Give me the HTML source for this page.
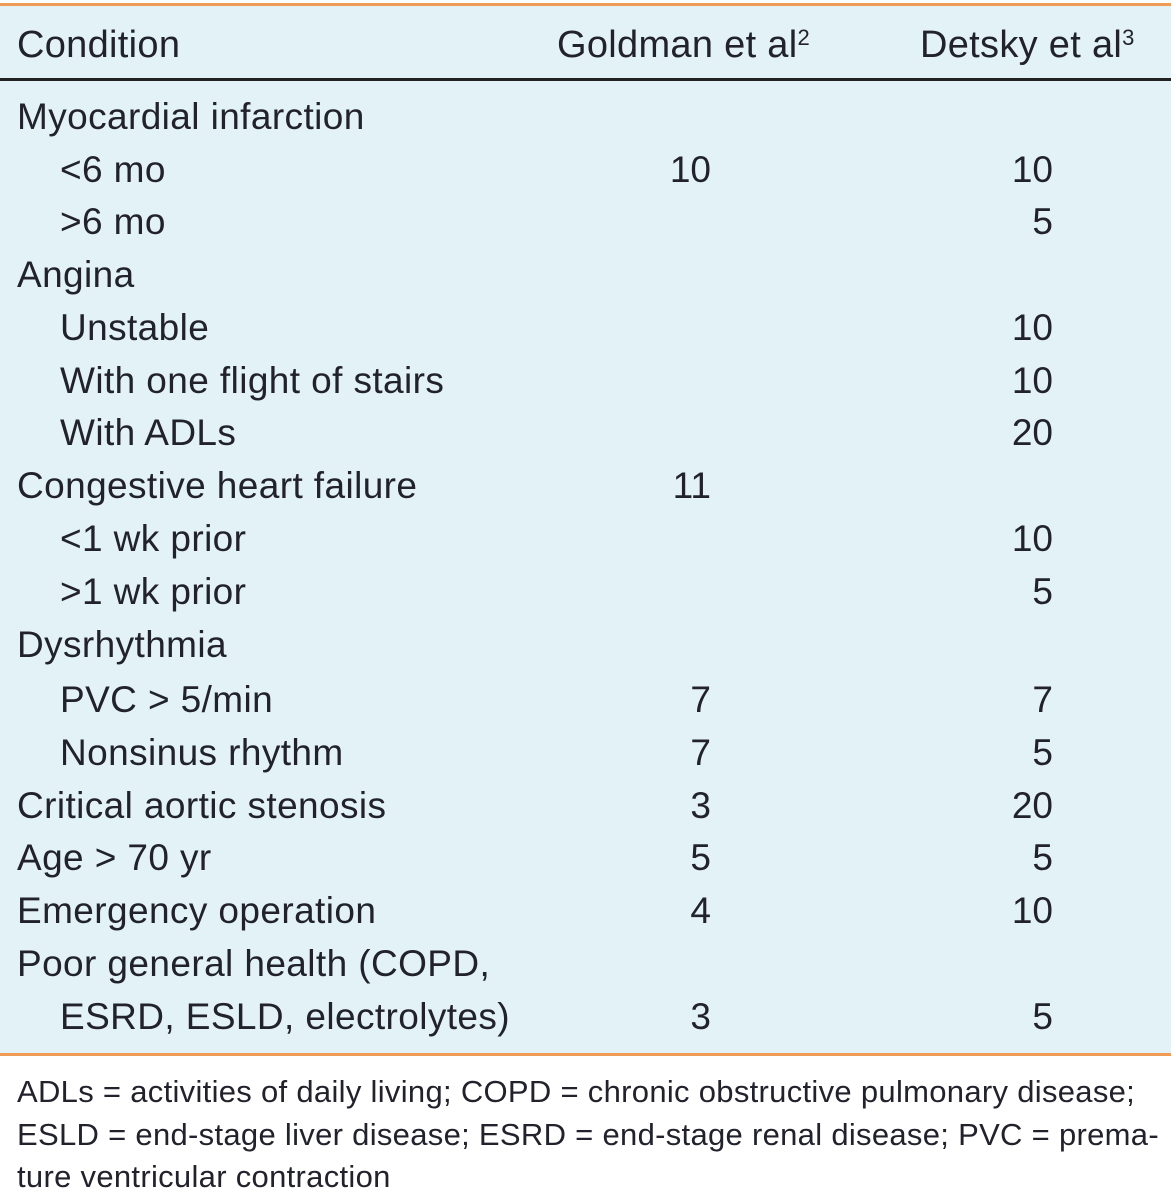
<!DOCTYPE html>
<html><head><style>
body{margin:0;width:1176px;height:1200px;background:#fff;position:relative;overflow:hidden;font-family:"Liberation Sans",sans-serif;color:#22222c}
.bg{position:absolute;left:0;top:5px;width:1171px;height:1050px;background:#e2f2f7}
.ot{position:absolute;left:0;top:3px;width:1171px;height:3px;background:#ef9a55}
.ob{position:absolute;left:0;top:1053px;width:1171px;height:3px;background:#ef9a55}
.bk{position:absolute;left:0;top:78px;width:1171px;height:3px;background:#222}
.t{position:absolute;font-size:37px;line-height:40px;height:40px;white-space:nowrap;letter-spacing:0.4px}
.h{font-size:38px;letter-spacing:0.3px}
.g{position:absolute;font-size:37px;line-height:40px;width:200px;text-align:right;left:511px}
.d{position:absolute;font-size:37px;line-height:40px;width:200px;text-align:right;left:853px}
.f{position:absolute;left:17px;font-size:31px;line-height:40px;white-space:nowrap;letter-spacing:0.3px}
sup{font-size:22px;vertical-align:12px;line-height:0}
</style></head><body>
<div class="bg"></div><div class="ot"></div><div class="bk"></div><div class="ob"></div>
<div class="t h" style="left:17px;top:25px">Condition</div>
<div class="t h" style="left:557px;top:25px">Goldman et al<sup>2</sup></div>
<div class="t h" style="left:920px;top:25px">Detsky et al<sup>3</sup></div>

<div class="t" style="left:17px;top:97px">Myocardial infarction</div>
<div class="t" style="left:60px;top:150px">&lt;6 mo</div><div class="g" style="top:150px">10</div><div class="d" style="top:150px">10</div>
<div class="t" style="left:60px;top:202px">&gt;6 mo</div><div class="d" style="top:202px">5</div>
<div class="t" style="left:17px;top:255px">Angina</div>
<div class="t" style="left:60px;top:308px">Unstable</div><div class="d" style="top:308px">10</div>
<div class="t" style="left:60px;top:361px">With one flight of stairs</div><div class="d" style="top:361px">10</div>
<div class="t" style="left:60px;top:413px">With ADLs</div><div class="d" style="top:413px">20</div>
<div class="t" style="left:17px;top:466px">Congestive heart failure</div><div class="g" style="top:466px">11</div>
<div class="t" style="left:60px;top:519px">&lt;1 wk prior</div><div class="d" style="top:519px">10</div>
<div class="t" style="left:60px;top:572px">&gt;1 wk prior</div><div class="d" style="top:572px">5</div>
<div class="t" style="left:17px;top:625px">Dysrhythmia</div>
<div class="t" style="left:60px;top:680px">PVC &gt; 5/min</div><div class="g" style="top:680px">7</div><div class="d" style="top:680px">7</div>
<div class="t" style="left:60px;top:733px">Nonsinus rhythm</div><div class="g" style="top:733px">7</div><div class="d" style="top:733px">5</div>
<div class="t" style="left:17px;top:786px">Critical aortic stenosis</div><div class="g" style="top:786px">3</div><div class="d" style="top:786px">20</div>
<div class="t" style="left:17px;top:838px">Age &gt; 70 yr</div><div class="g" style="top:838px">5</div><div class="d" style="top:838px">5</div>
<div class="t" style="left:17px;top:891px">Emergency operation</div><div class="g" style="top:891px">4</div><div class="d" style="top:891px">10</div>
<div class="t" style="left:17px;top:944px">Poor general health (COPD,</div>
<div class="t" style="left:60px;top:997px">ESRD, ESLD, electrolytes)</div><div class="g" style="top:997px">3</div><div class="d" style="top:997px">5</div>

<div class="f" style="top:1072px">ADLs = activities of daily living; COPD = chronic obstructive pulmonary disease;</div>
<div class="f" style="top:1115px">ESLD = end-stage liver disease; ESRD = end-stage renal disease; PVC = prema-</div>
<div class="f" style="top:1157px">ture ventricular contraction</div>
</body></html>
